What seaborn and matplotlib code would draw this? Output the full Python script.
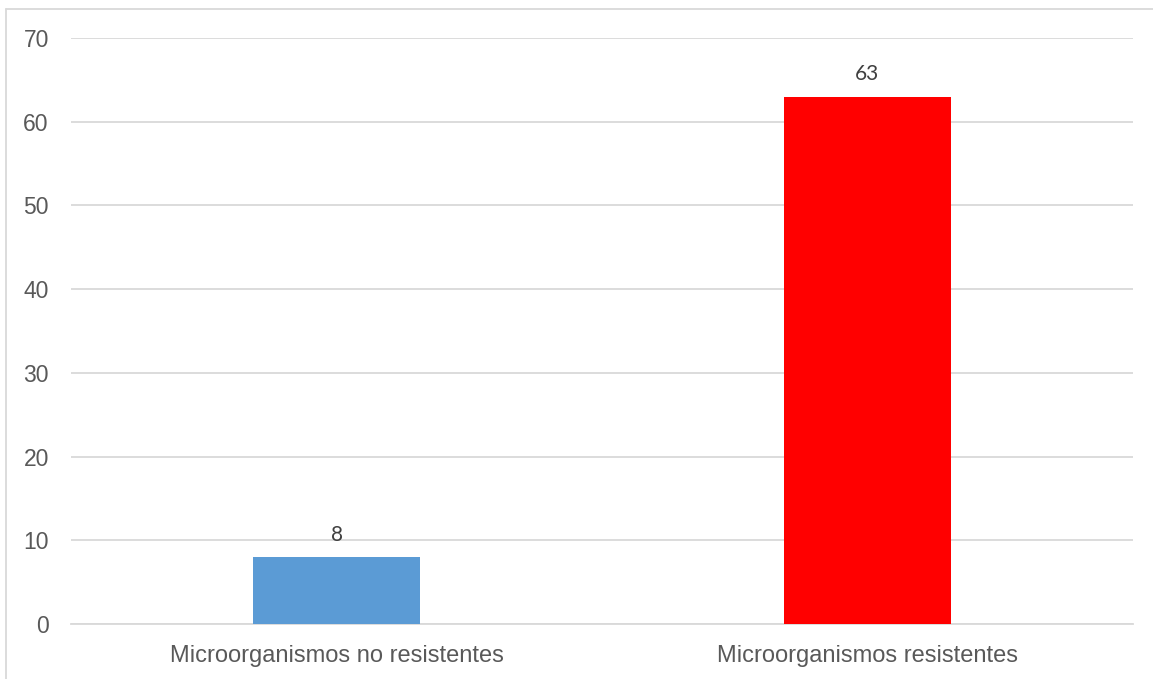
import matplotlib
matplotlib.use("Agg")
import matplotlib.pyplot as plt
import seaborn as sns
import pandas as pd
from matplotlib.lines import Line2D

categories = ["Microorganismos no resistentes", "Microorganismos resistentes"]
values = [8, 63]
bar_colors = ["#5B9BD5", "#FF0000"]
y_ticks = [0, 10, 20, 30, 40, 50, 60, 70]

sns.set_theme(style="white")
plt.rcParams["font.family"] = ["Liberation Sans", "DejaVu Sans"]

W, H = 1153, 679
fig = plt.figure(figsize=(W / 100, H / 100), dpi=100)
ax = fig.add_axes([71 / W, 1 - 624 / H, (1133 - 71) / W, (624 - 38) / H])

df = pd.DataFrame({"cat": categories, "val": values})
sns.barplot(data=df, x="cat", y="val", hue="cat", palette=bar_colors,
            width=0.315, legend=False, ax=ax, saturation=1, zorder=3,
            linewidth=0)

ax.set_xlim(-0.5, 1.5)
ax.set_ylim(0, 70)
ax.set_yticks(y_ticks)
ax.set_yticklabels([str(t) for t in y_ticks])
ax.yaxis.grid(True, color="#D9D9D9", linewidth=1.3, zorder=0)
ax.xaxis.grid(False)
for s in ["top", "right", "left"]:
    ax.spines[s].set_visible(False)
ax.spines["bottom"].set_color("#D9D9D9")
ax.spines["bottom"].set_linewidth(1.3)
ax.set_xlabel("")
ax.set_ylabel("")
ax.tick_params(axis="y", length=0, pad=16, labelsize=16.5, labelcolor="#595959")
ax.tick_params(axis="x", length=0, pad=15, labelsize=17, labelcolor="#595959")

for i, v in enumerate(values):
    ax.annotate(str(v), (i, v), xytext=(0, 9), textcoords="offset points",
                ha="center", va="bottom", fontsize=15, color="#404040",
                family=["Lato", "DejaVu Sans"])

# chart frame
fig.add_artist(Line2D([6 / W, 6 / W], [0, 1 - 9 / H], transform=fig.transFigure,
                      color="#D9D9D9", linewidth=1.3))
fig.add_artist(Line2D([6 / W, 1], [1 - 9 / H, 1 - 9 / H], transform=fig.transFigure,
                      color="#D9D9D9", linewidth=1.3))

fig.savefig("out.png", dpi=100, facecolor="white")
